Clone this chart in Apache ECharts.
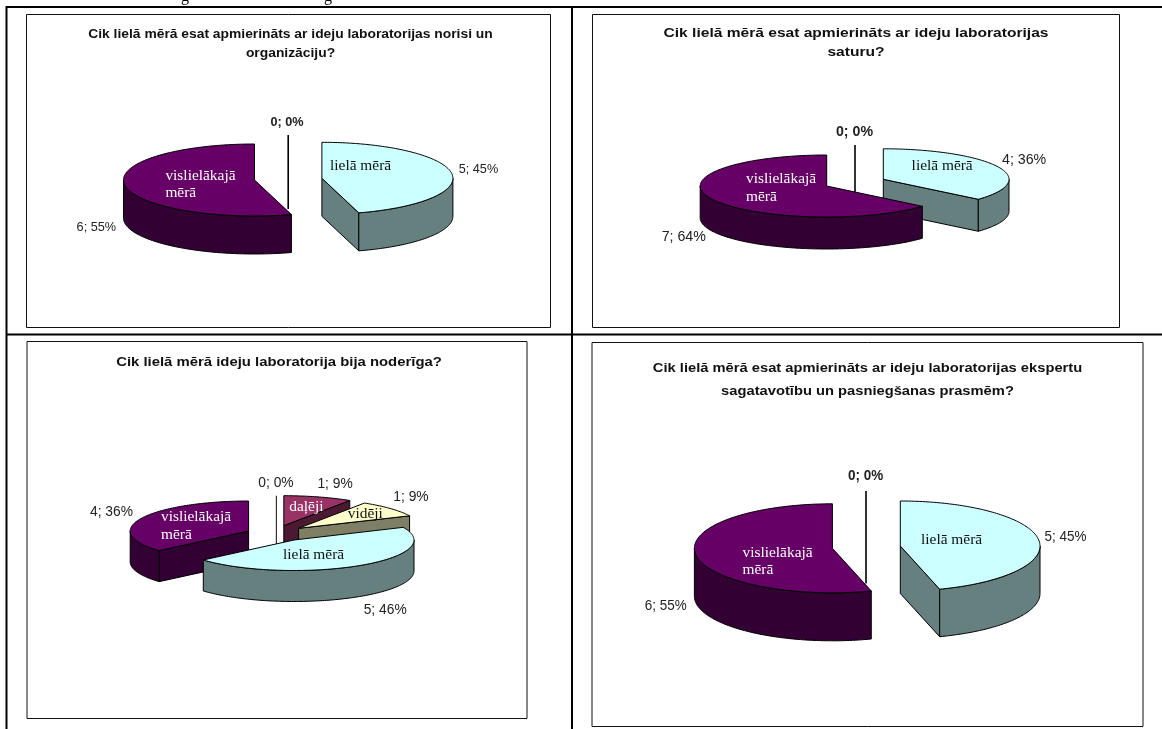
<!DOCTYPE html>
<html><head><meta charset="utf-8">
<style>html,body{margin:0;padding:0;background:#fff}#c{width:1162px;height:729px}</style>
<script src="https://cdn.jsdelivr.net/npm/echarts@6/dist/echarts.min.js"></script>
</head><body><div id="c"></div>
<script>
// ---- data ----
const titles = [
  'Cik lielā mērā esat apmierināts ar ideju laboratorijas norisi un\norganizāciju?',
  'Cik lielā mērā esat apmierināts ar ideju laboratorijas\nsaturu?',
  'Cik lielā mērā ideju laboratorija bija noderīga?',
  'Cik lielā mērā esat apmierināts ar ideju laboratorijas ekspertu\nsagatavotību un pasniegšanas prasmēm?'
];
const categories1 = ['lielā mērā', 'vislielākajā\nmērā', ''];
const values1 = [5, 6, 0];
const percents1 = [45, 55, 0];
const categories2 = ['lielā mērā', 'vislielākajā\nmērā', ''];
const values2 = [4, 7, 0];
const percents2 = [36, 64, 0];
const categories3 = ['daļēji', 'vidēji', 'lielā mērā', 'vislielākajā\nmērā', ''];
const values3 = [1, 1, 5, 4, 0];
const percents3 = [9, 9, 46, 36, 0];
const categories4 = ['lielā mērā', 'vislielākajā\nmērā', ''];
const values4 = [5, 6, 0];
const percents4 = [45, 55, 0];

// ---- styling ----
const palette = {
  'lielā mērā': ['#ccffff', '#667f7f', '#111'],
  'vislielākajā\nmērā': ['#660066', '#330033', '#fff'],
  'daļēji': ['#993366', '#4c1933', '#fff'],
  'vidēji': ['#ffffcc', '#7f7f66', '#111'],
  '': ['#000', '#000', '#000']
};
const NAME_FS = 15.4, NAME_LH = 17.5;
const panels = [
  { cats: categories1, vals: values1, pcts: percents1, bold0: true, fs: 12.7, sx: 1,
    frame: [26.5, 14.5, 524, 313], title: [290.5, 34.5, 19.5], tf: 12.5, tsx: 1.107,
    geo: [[321.9,178.3,131,36,38],[254.5,180,131,36,38],[288.2,171,131,36,38]],
    order: [2,0,1],
    name: [[330,166],[165.4,175.7],null], lab: [[458.7,169.5],[76.6,227],[287,122.5]] },
  { cats: categories2, vals: values2, pcts: percents2, bold0: true, fs: 14.2, sx: 1,
    frame: [592.5, 14.5, 527, 313], title: [856, 33.3, 19.5], tf: 12.5, tsx: 1.245,
    geo: [[883.3,179.3,125.7,30.5,32],[826.7,186,126.5,31,32],[855,176,126,31,32]],
    order: [2,0,1],
    name: [[911.6,166],[746,179.3],null], lab: [[1002,160.5],[661.7,237],[854.5,132.5]] },
  { cats: categories3, vals: values3, pcts: percents3, bold0: false, fs: 13.8, sx: 1,
    frame: [27, 341.5, 500, 377], title: [279, 362.7, 19.5], tf: 12.5, tsx: 1.19,
    geo: [[283.8,525.7,122,30,31],[298.6,528.3,122,30,31],[294,540,120,30.5,31],[248.6,531,118.4,30,31],[276.4,525.7,120,30,31]],
    order: [4,0,1,3,2],
    name: [[289.3,506.7],[347.8,514.3],[283,555.3],[161,517.3],null],
    lab: [[317.4,484],[393.3,497.5],[363.7,610],[90,512.5],[276,483.5]] },
  { cats: categories4, vals: values4, pcts: percents4, bold0: true, fs: 14.5, sx: 0.93,
    frame: [592, 342.5, 551, 384], title: [867.5, 368, 23.5], tf: 13.5, tsx: 1.09,
    geo: [[900.3,546,139.7,45,47.5],[832.4,548.3,138,44.5,48],[866,536,139,45,47.5]],
    order: [2,0,1],
    name: [[921,540],[742.5,552.7],null], lab: [[1044.5,536.5],[644.7,605.5],[865.6,475.5]] }
];
const rows = [];
panels.forEach((p, pi) => p.order.forEach(si => rows.push([pi, si, p.vals[si]])));

// ---- drawing helpers: slice angles come from the values ----
function angles(p, si) {
  const total = p.vals.reduce((a, b) => a + b, 0);
  let s = 0;
  for (let i = 0; i < si; i++) s += p.vals[i];
  return [s / total * Math.PI * 2, (s + p.vals[si]) / total * Math.PI * 2];
}
function pt(g, t, dz) { return [g[0] + g[2] * Math.sin(t), g[1] - g[3] * Math.cos(t) + (dz || 0)]; }
function arc(g, a, b, dz) {
  const n = Math.max(2, Math.ceil((b - a) / 0.02)), o = [];
  for (let i = 0; i <= n; i++) o.push(pt(g, a + (b - a) * i / n, dz));
  return o;
}
function poly(points, fill) {
  return { type: 'polygon', shape: { points }, style: { fill, stroke: '#000', lineWidth: 1, lineJoin: 'round' } };
}
function text(x, y, str, font, color, sx, align) {
  return { type: 'text', x, y, scaleX: sx || 1, style: { text: str, font, fill: color, align: align || 'left', verticalAlign: 'middle', lineHeight: 0 } };
}

function renderSlice(params, api) {
  const p = panels[api.value(0)], si = api.value(1), v = api.value(2);
  const g = p.geo[si], cat = p.cats[si], col = palette[cat], d = g[4];
  const [a, b] = angles(p, si), kids = [];
  const pct = p.pcts[si];
  if (v === 0) {
    kids.push({ type: 'line', shape: { x1: g[0], y1: g[1] - g[3], x2: g[0], y2: g[1] + d },
      style: { stroke: p.bold0 ? '#000' : '#333', lineWidth: p.bold0 ? 1.6 : 1.2 } });
  } else {
    const c = [g[0], g[1]], cd = [g[0], g[1] + d];
    if (Math.sin(a) < -1e-6) { const e = pt(g, a); kids.push(poly([c, e, [e[0], e[1] + d], cd], col[1])); }
    if (Math.sin(b) > 1e-6) { const e = pt(g, b); kids.push(poly([c, e, [e[0], e[1] + d], cd], col[1])); }
    const fa = Math.max(a, Math.PI / 2), fb = Math.min(b, Math.PI * 1.5);
    if (fb > fa) kids.push(poly(arc(g, fa, fb, 0).concat(arc(g, fa, fb, d).reverse()), col[1]));
    kids.push(poly([c].concat(arc(g, a, b, 0)), col[0]));
  }
  if (p.name[si]) {
    const n = p.name[si], lines = cat.split('\n');
    lines.forEach((l, i) => kids.push(text(n[0], n[1] + i * NAME_LH, l, NAME_FS + 'px "Liberation Serif"', col[2], 1)));
  }
  const lb = p.lab[si];
  const font = (v === 0 && p.bold0 ? 'bold ' : '') + p.fs + 'px "Liberation Sans"';
  kids.push(text(lb[0], lb[1], v + '; ' + pct + '%', font, '#222', p.sx, v === 0 ? 'center' : 'left'));
  return { type: 'group', children: kids };
}

// ---- page furniture ----
const furniture = [];
const rule = (x1, y1, x2, y2) => furniture.push({ type: 'line', z: 1, shape: { x1, y1, x2, y2 }, style: { stroke: '#000', lineWidth: 2 } });
rule(6, 7, 1162, 7); rule(6, 334.5, 1162, 334.5); rule(6.5, 6, 6.5, 729); rule(572, 6, 572, 729);
panels.forEach((p, i) => {
  furniture.push({ type: 'rect', z: 2, shape: { x: p.frame[0], y: p.frame[1], width: p.frame[2], height: p.frame[3] },
    style: { fill: '#fff', stroke: '#111', lineWidth: 1 } });
  titles[i].split('\n').forEach((l, k) => furniture.push({ type: 'text', z: 3, x: p.title[0], y: p.title[1] + k * p.title[2], scaleX: p.tsx,
    style: { text: l, font: 'bold ' + p.tf + 'px "Liberation Sans"', fill: '#111', align: 'center', verticalAlign: 'middle' } }));
});
[[185], [328]].forEach(x => furniture.push({ type: 'text', z: 3, x: x[0], y: -11, style: { text: 'g', font: '16px "Liberation Serif"', fill: '#000', align: 'center', verticalAlign: 'top' } }));

const chart = echarts.init(document.getElementById('c'), null, { renderer: 'canvas' });
chart.setOption({
  animation: false,
  backgroundColor: '#fff',
  graphic: { elements: furniture },
  series: [{ type: 'custom', coordinateSystem: 'none', z: 10, clip: false, silent: true,
    renderItem: renderSlice, data: rows }]
});
</script></body></html>
